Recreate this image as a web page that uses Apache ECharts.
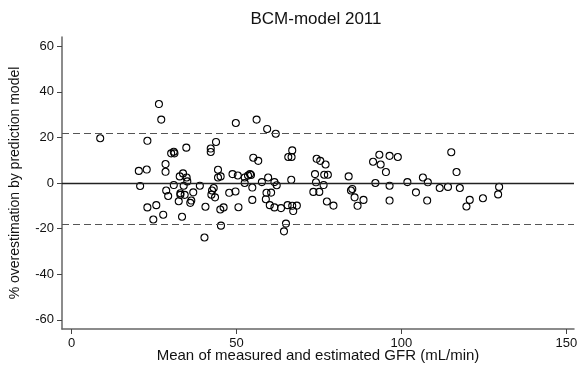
<!DOCTYPE html>
<html>
<head>
<meta charset="utf-8">
<script src="https://cdn.jsdelivr.net/npm/echarts@6/dist/echarts.min.js"></script>
<style>html,body{margin:0;padding:0;background:#fff}#c{width:577px;height:376px}</style>
</head>
<body>
<div id="c"></div>
<script>
const titleText = 'BCM-model 2011';
const xName = 'Mean of measured and estimated GFR (mL/min)';
const yName = '% overestimation by prediction model';
const xTicks = [0, 50, 100, 150];
const yTicks = [-60, -40, -20, 0, 20, 40, 60];
const meanLine = 0;
const upperLimit = 21.8;
const lowerLimit = -18.1;
const gfrMean = [8.7,26.5,27.2,23.0,49.8,56.1,43.8,42.2,42.2,34.8,31.0,31.2,30.2,28.5,20.4,22.8,28.5,32.8,33.8,34.9,44.4,44.4,45.2,48.8,50.4,52.5,53.5,54.1,54.4,55.1,56.6,20.8,31.0,34.0,35.1,38.9,28.7,29.3,33.0,33.0,34.3,32.5,36.0,36.3,36.9,42.6,43.1,42.4,43.5,47.8,49.7,52.5,54.8,54.8,23.0,25.7,27.8,24.8,33.5,40.6,45.1,46.1,50.6,45.3,40.3,59.3,61.9,66.9,65.7,66.7,74.3,75.4,77.0,91.4,93.3,93.7,96.4,98.9,95.3,59.6,66.6,73.8,76.6,77.7,84.0,57.7,61.5,62.2,59.1,60.5,58.9,60.1,61.5,63.5,65.5,66.9,68.3,67.2,65.0,64.4,74.1,76.4,73.3,75.1,77.4,79.4,84.7,85.1,85.8,86.7,88.5,92.1,96.4,96.4,101.8,104.4,106.5,108.0,107.8,115.1,116.7,111.6,114.1,117.7,120.7,119.7,124.7,129.6,129.3];
const pctOver = [19.6,34.6,27.8,18.5,26.3,27.8,18.0,15.1,13.6,15.5,13.7,13.0,13.0,8.3,5.3,5.9,4.9,2.9,4.2,2.4,5.8,2.4,2.9,3.9,3.3,2.4,3.3,3.9,3.5,11.1,9.7,-1.3,-0.9,-1.2,0.7,-1.2,-3.3,-5.7,-4.5,-5.2,-5.2,-8.0,-8.7,-7.7,-4.1,-3.3,-2.2,-5.1,-6.3,-4.3,-3.7,0.0,-2.0,-7.4,-10.7,-9.7,-13.9,-16.0,-14.8,-10.4,-11.6,-10.7,-10.6,-18.7,-23.9,23.7,21.6,14.3,11.4,11.4,10.6,9.7,8.1,9.3,12.4,8.1,11.9,11.4,4.8,2.4,1.4,3.9,3.6,3.6,2.9,0.4,0.4,-1.0,-4.3,-4.2,-7.1,-9.7,-10.7,-11.0,-9.7,-10.0,-9.9,-12.3,-17.8,-21.2,0.3,-0.9,-3.9,-3.9,-8.1,-9.9,-3.3,-2.6,-6.3,-10.0,-7.4,0.0,-1.2,-7.7,0.4,-4.1,2.4,0.3,-7.7,13.5,4.8,-2.2,-1.7,-2.2,-7.4,-10.3,-6.7,-1.7,-5.0];

const points = gfrMean.map((x, i) => [x, pctOver[i]]);
const font = 'Liberation Sans, Arial, Helvetica, sans-serif';
const chart = echarts.init(document.getElementById('c'), null, {renderer: 'canvas'});
chart.setOption({
  animation: false,
  backgroundColor: '#fff',
  title: {
    text: titleText, left: 311, top: 6, textAlign: 'center',
    textStyle: {fontFamily: font, fontSize: 17, fontWeight: 'normal', color: '#111'}
  },
  grid: {left: 62, right: 3, top: 37, bottom: 47, containLabel: false, outerBoundsMode: 'none'},
  xAxis: {
    type: 'value', min: -2.88, max: 152.3,
    name: xName, nameLocation: 'middle', nameGap: 19, nameMoveOverlap: false,
    nameTextStyle: {fontFamily: font, fontSize: 15, color: '#111'},
    axisLine: {show: true, onZero: false, lineStyle: {color: '#666', width: 1.5}},
    axisTick: {show: true, inside: false, length: 5, customValues: xTicks, lineStyle: {color: '#444', width: 1}},
    axisLabel: {customValues: xTicks, margin: 8, fontFamily: font, fontSize: 13, color: '#111'},
    splitLine: {show: false}
  },
  yAxis: {
    type: 'value', min: -64, max: 64,
    name: yName, nameLocation: 'middle', nameGap: 40, nameRotate: 90, nameMoveOverlap: false,
    nameTextStyle: {fontFamily: font, fontSize: 14, color: '#111'},
    axisLine: {show: true, onZero: false, lineStyle: {color: '#666', width: 1.5}},
    axisTick: {show: true, inside: false, length: 5, customValues: yTicks, lineStyle: {color: '#444', width: 1}},
    axisLabel: {customValues: yTicks, margin: 8, fontFamily: font, fontSize: 13, color: '#111'},
    splitLine: {show: false}
  },
  series: [{
    type: 'scatter',
    data: points,
    symbol: 'circle',
    symbolSize: 7,
    itemStyle: {color: 'rgba(0,0,0,0)', borderColor: '#000', borderWidth: 1.1, opacity: 1},
    markLine: {
      silent: true, symbol: 'none', label: {show: false}, animation: false,
      data: [
        {yAxis: meanLine, lineStyle: {type: 'solid', color: '#222', width: 1.3}},
        {yAxis: upperLimit, lineStyle: {type: [7, 4], color: '#555', width: 1.2}},
        {yAxis: lowerLimit, lineStyle: {type: [7, 4], color: '#555', width: 1.2}}
      ]
    }
  }]
});
</script>
</body>
</html>
